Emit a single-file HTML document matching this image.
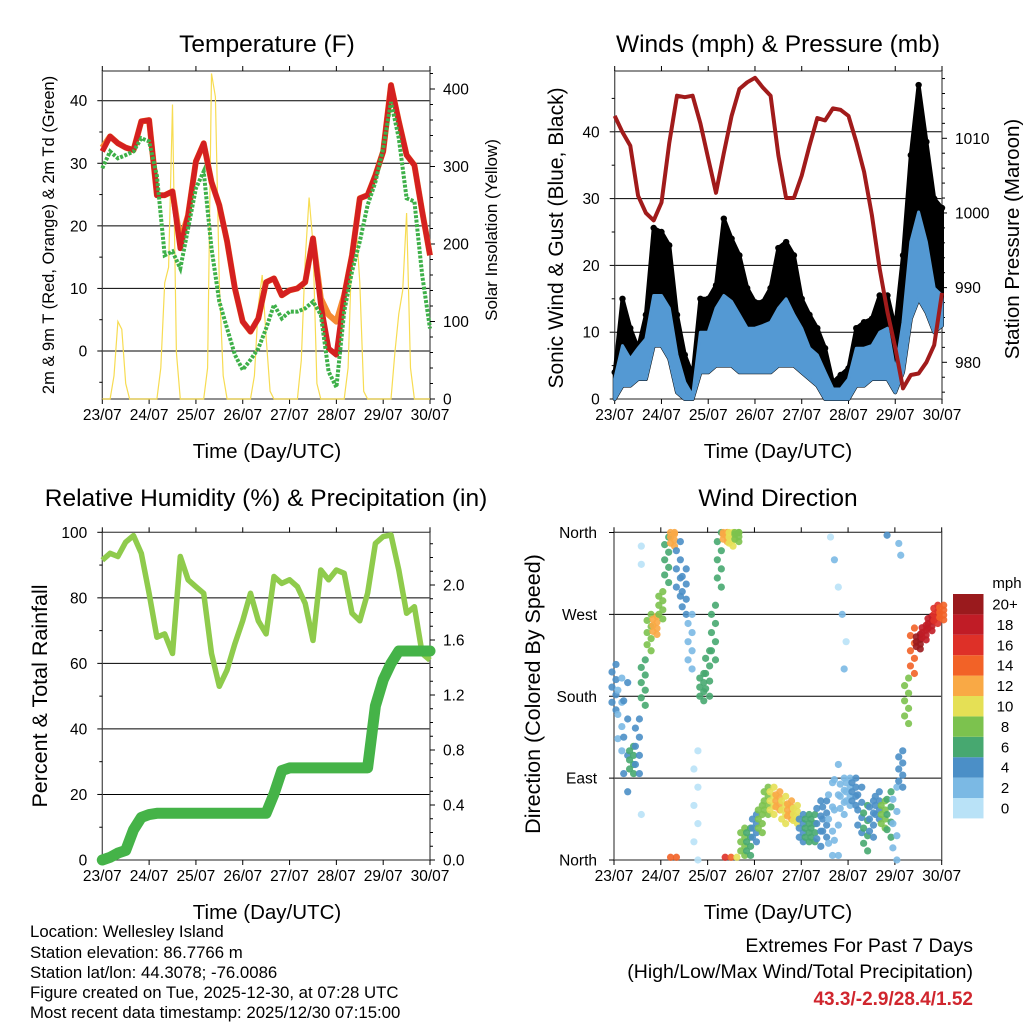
<!DOCTYPE html>
<html><head><meta charset="utf-8"><style>
html,body{margin:0;padding:0;background:#fff;}
svg{display:block;font-family:"Liberation Sans",Arial,sans-serif;}
</style></head><body>
<svg id="chart" width="1024" height="1024" viewBox="0 0 1024 1024">
<rect x="0" y="0" width="1024" height="1024" fill="#fff"/>
<g font-size="24.5" text-anchor="middle" fill="#000">
<text x="267" y="52">Temperature (F)</text>
<text x="778" y="52">Winds (mph) &amp; Pressure (mb)</text>
<text x="266" y="506">Relative Humidity (%) &amp; Precipitation (in)</text>
<text x="778" y="506">Wind Direction</text>
</g>
<g font-size="20.5" text-anchor="middle">
<text x="267" y="458">Time (Day/UTC)</text>
<text x="778" y="458">Time (Day/UTC)</text>
<text x="267" y="919">Time (Day/UTC)</text>
<text x="778" y="919">Time (Day/UTC)</text>
</g>
<g text-anchor="middle">
<text font-size="16.5" transform="translate(54,235) rotate(-90)">2m &amp; 9m T (Red, Orange) &amp; 2m Td (Green)</text>
<text font-size="17" transform="translate(497,230) rotate(-90)">Solar Insolation (Yellow)</text>
<text font-size="21" transform="translate(563,238) rotate(-90)">Sonic Wind &amp; Gust (Blue, Black)</text>
<text font-size="20.5" transform="translate(1019,239) rotate(-90)">Station Pressure (Maroon)</text>
<text font-size="21.5" transform="translate(47,696) rotate(-90)">Percent &amp; Total Rainfall</text>
<text font-size="21.5" transform="translate(540,694) rotate(-90)">Direction (Colored By Speed)</text>
</g>
<g font-size="16.8" fill="#000">
<text x="30" y="937">Location: Wellesley Island</text>
<text x="30" y="958">Station elevation: 86.7766 m</text>
<text x="30" y="978">Station lat/lon: 44.3078; -76.0086</text>
<text x="30" y="998">Figure created on Tue, 2025-12-30, at 07:28 UTC</text>
<text x="30" y="1018">Most recent data timestamp: 2025/12/30 07:15:00</text>
</g>
<g text-anchor="end">
<text x="973" y="952" font-size="19.5">Extremes For Past 7 Days</text>
<text x="973" y="978" font-size="19.5">(High/Low/Max Wind/Total Precipitation)</text>
<text x="973" y="1005" font-size="19" font-weight="bold" fill="#d0262e">43.3/-2.9/28.4/1.52</text>
</g>
<g id="plots"></g>
</svg>
<script>
const days = ['23/07','24/07','25/07','26/07','27/07','28/07','29/07','30/07'];
const tempRed = [31.9,34.3,33.2,32.5,32.1,36.7,36.9,24.9,24.9,25.5,16.4,21.7,30.3,33.2,27,23.3,17.5,10,4.7,3.1,5.2,11,11.6,8.9,9.7,10,11,18,7.4,0.4,-0.6,8.9,15.3,24.4,24.9,28.1,31.9,42.5,36.7,31.3,29.7,22.3,15.3];
const tempOrange = [32.5,34.3,33.2,32.5,32.1,36.7,36.9,24.9,24.9,25.5,17.5,21.7,30.3,33.2,27,23.3,17.5,10,4.7,3.1,5.2,11,11.6,8.9,9.7,10,11,18,8.4,5.8,4.7,8.9,15.3,24.4,24.9,28.1,31.9,42.5,36.7,31.3,29.7,22.3,15.3];
const dewGreen = [29.2,31.9,30.8,31.3,31.9,34,33.5,28,15.3,15.9,13.2,19.6,26,28.7,16.4,7.9,3.6,-0.6,-3,-1.4,0.4,3.6,7.4,5.2,6.3,6.3,6.8,7.9,5.8,-3.3,-5.8,6.3,12.7,17.5,23.3,27,32.4,39.8,34,24.4,23.9,12.1,3.6];
const solar2h = [0,0,0,30,100,90,20,0,0,0,0,0,
 0,0,0,40,150,170,380,60,0,0,0,0,
 0,0,0,40,420,390,150,30,0,0,0,0,
 0,0,0,30,120,160,80,10,0,0,0,0,
 0,0,0,50,180,260,200,20,0,0,0,0,
 0,0,0,40,200,230,150,10,0,0,0,0,
 0,0,0,60,110,140,240,40,0,0,0,0,0];
const gust = [4,15,10.6,7.6,12.6,25.6,25,23,12.6,6.6,3.6,15,15,17,27,24,21.5,16.6,14.5,14.5,16.6,22.6,23.5,21.5,15,12.6,10.6,7.6,2.5,3.6,4.6,10.6,11.5,12,15.5,15.5,10.6,21.5,36.5,47,38.5,30,28.6];
const windHi = [3,8,6,7.6,9,15.5,15.5,13.6,6.6,2.5,0.5,10,10,13.6,15.5,14.6,12.6,10.6,10.6,11,11.5,13.6,15,12.6,10.6,7.6,6.6,4,1.5,1.5,3,7.6,7.6,8,10,10.6,4,11.5,23.5,28,23.5,16.6,15.5];
const windLo = [0,2,2,3,3,8,8,6,1,0,0,4,4,5,5,5,4,4,4,4,4,5,5,5,4,3,2,0,0,0,0,2,2,3,3,3,1,4,12,15,13,10,11];
const pressure = [1013,1010.8,1009,1002.3,1000,999,1001.4,1009.4,1015.7,1015.5,1015.7,1012,1007.3,1002.7,1008,1013,1016.6,1017.5,1018.1,1016.8,1015.7,1007.7,1002,1002,1005,1009,1012.7,1012.4,1014,1013.8,1013,1009.5,1005.5,999.7,992.5,986.7,982,976.5,978.3,978.5,980,982.3,989.3];
const rh = [91.5,93.6,92.6,97,99,93.6,81.4,68,69,63,92.6,85.5,83.4,81.4,63,53,58,66,73,81.4,73,69,86.5,84.4,85.5,83.4,78.3,67,88.5,85.5,88.5,87.5,75.3,73,81.4,96.6,98.7,99.2,88.5,75.3,77.3,63,61];
const precip = [0,0.02,0.05,0.07,0.22,0.31,0.33,0.34,0.34,0.34,0.34,0.34,0.34,0.34,0.34,0.34,0.34,0.34,0.34,0.34,0.34,0.34,0.48,0.65,0.67,0.67,0.67,0.67,0.67,0.67,0.67,0.67,0.67,0.67,0.67,1.12,1.31,1.43,1.52,1.52,1.52,1.52,1.52];
const dirHours = [0,3,6,9,12,15,18,21,24,27,30,33,36,39,42,45,48,51,54,57,60,63,66,69,72,75,78,81,84,87,90,93,96,99,102,105,108,111,114,117,120,123,126,129,132,135,138,141,144,147,150,153,156,159,162,165,168];
const dirDeg = [190,160,135,110,125,195,250,258,280,330,355,320,295,240,60,190,205,250,330,358,355,358,20,20,35,45,65,65,65,55,55,50,35,35,35,40,45,45,55,70,75,75,55,35,45,60,50,50,40,100,175,230,240,250,260,270,272];
const dirSpeed = [4,3,4,6,4,6,8,12,9,6,12,5,4,2,1,7,7,6,6,12,11,8,8,6,5,8,8,10,12,11,13,11,5,6,6,4,4,2,2,2,3,4,4,6,5,4,9,6,3,5,8,15,20,19,18,17,14];
const dirSpread = [25,40,60,15,30,25,20,10,15,25,10,30,25,30,60,15,25,30,30,8,10,8,15,15,15,15,15,15,10,15,10,10,15,15,15,25,20,40,50,20,15,15,25,25,20,15,15,25,40,20,25,25,8,8,8,10,8];
const extraHours = [14,14,14,29,32,57,60,63,111,113,115,117,119,118,140,146,147];
const extraDeg = [345,325,50,3,3,3,3,3,355,330,300,270,240,210,357,348,335];
const extraSpeed = [1,1,1,15,14,16,14,11,1,2,1,2,1,2,4,2,2];
const speedLabels = ['0','2','4','6','8','10','12','14','16','18','20+'];
const speedColors = ['#b9e2f7','#7bb9e4','#4b8fc7','#47a870','#7cc24e','#e5e055','#f9a945','#f26227','#de3028','#c01c26','#9a1a1d'];

const NS='http://www.w3.org/2000/svg';
const root=document.getElementById('plots');
function mk(tag,attrs,parent){const e=document.createElementNS(NS,tag);for(const k in attrs)e.setAttribute(k,attrs[k]);(parent||root).appendChild(e);return e;}

const P1={x0:102.3,x1:430,y0:71,y1:399};
const P2={x0:614.7,x1:942,y0:71,y1:399};
const P3={x0:102.3,x1:430,y0:532.3,y1:860};
const P4={x0:614,x1:941.7,y0:532.3,y1:860};
function xH(p,h){return p.x0+h*(p.x1-p.x0)/168;}
const yT=v=>351-v*6.2575, yS=w=>399-w*0.775;
const yW=v=>399-v*6.68, yP=p=>362.3-(p-980)*7.467;
const yR=v=>860-v*3.277, yPr=v=>860-v*137.5;
const yD=d=>860-Math.max(0,Math.min(360,d))*0.9097;

function axes(p,name,left,right,grid){
  const g=mk('g',{});
  
  
  grid.vals.forEach(v=>{const y=grid.f(v);
    const l=mk('line',{x1:p.x0,x2:p.x1,y1:y,y2:y,stroke:'#000','stroke-width':1},g);
    
    });
  const fr=mk('rect',{x:p.x0,y:p.y0,width:p.x1-p.x0,height:p.y1-p.y0,fill:'none',stroke:'#555','stroke-width':1.3},g);
  
  
  days.forEach((d,i)=>{const x=xH(p,i*24);
    mk('line',{x1:x,x2:x,y1:p.y1,y2:p.y1+5,stroke:'#000'},g);
    mk('line',{x1:x,x2:x,y1:p.y0,y2:p.y0-5,stroke:'#000'},g);
    const t=mk('text',{x:x,y:p.y1+21,'font-size':15.5,'text-anchor':'middle'},g);t.textContent=d;
    
    });
  left.major.forEach((v,i)=>{const y=left.f(v);
    mk('line',{x1:p.x0-5,x2:p.x0,y1:y,y2:y,stroke:'#000'},g);
    const t=mk('text',{x:p.x0-(left.gap||15),y:y+5.5,'font-size':15.5,'text-anchor':'end'},g);t.textContent=left.labels[i];
    
    });
  (left.minor||[]).forEach(v=>{const y=left.f(v);mk('line',{x1:p.x0-3,x2:p.x0,y1:y,y2:y,stroke:'#000'},g);});
  if(right){
    right.major.forEach((v,i)=>{const y=right.f(v);
      mk('line',{x1:p.x1,x2:p.x1+5,y1:y,y2:y,stroke:'#000'},g);
      const t=mk('text',{x:p.x1+13,y:y+5.5,'font-size':15.5},g);t.textContent=right.labels[i];
      
      });
    (right.minor||[]).forEach(v=>{const y=right.f(v);mk('line',{x1:p.x1,x2:p.x1+3,y1:y,y2:y,stroke:'#000'},g);});
  }
}
function range(a,b,s,skip){const r=[];for(let v=a;v<=b+1e-9;v+=s){if(!skip||Math.abs(((v%skip)+skip)%skip)>1e-6&&Math.abs(((v%skip)+skip)%skip-skip)>1e-6)r.push(+v.toFixed(3));}return r;}
function pts(p,arr,f,step){return arr.map((v,i)=>xH(p,i*step).toFixed(1)+','+f(v).toFixed(1)).join(' ');}

// Panel 1: temperature
axes(P1,'temp',{f:yT,major:[0,10,20,30,40],labels:['0','10','20','30','40'],minor:[-5,5,15,25,35]},
 {f:yS,major:[0,100,200,300,400],labels:['0','100','200','300','400'],minor:range(20,420,20,100)},{f:yT,vals:[0,10,20,30,40]});
const solarLine=mk('polyline',{points:pts(P1,solar2h,yS,2),fill:'none',stroke:'#f7dc52','stroke-width':1.2});


const orangeLine=mk('polyline',{points:pts(P1,tempOrange,yT,4),fill:'none',stroke:'#f58a32','stroke-width':6,'stroke-linejoin':'round'});


const redLine=mk('polyline',{points:pts(P1,tempRed,yT,4),fill:'none',stroke:'#d42020','stroke-width':5.5,'stroke-linejoin':'round'});


const dewLine=mk('polyline',{points:pts(P1,dewGreen,yT,4),fill:'none',stroke:'#3eb049','stroke-width':4,'stroke-dasharray':'3 1.5'});



// Panel 2: winds & pressure
axes(P2,'wind',{f:yW,major:[0,10,20,30,40],labels:['0','10','20','30','40'],minor:[5,15,25,35,45]},
 {f:yP,major:[980,990,1000,1010],labels:['980','990','1000','1010'],minor:range(976,1018,2,10)},{f:yW,vals:[10,20,30,40]});
const gustPoly=gust.map((v,i)=>xH(P2,i*4).toFixed(1)+','+yW(v).toFixed(1)).concat(windLo.map((v,i)=>i).reverse().map(i=>xH(P2,i*4).toFixed(1)+','+yW(windLo[i]).toFixed(1))).join(' ');
const gustArea=mk('polygon',{points:gustPoly,fill:'#000',stroke:'#000','stroke-width':4,'stroke-linejoin':'round'});


gust.forEach((v,i)=>{const c=mk('circle',{cx:xH(P2,i*4),cy:yW(v),r:3.2,fill:'#000'});
  
  });
const windPoly=windHi.map((v,i)=>xH(P2,i*4).toFixed(1)+','+yW(v).toFixed(1)).concat(windLo.map((v,i)=>i).reverse().map(i=>xH(P2,i*4).toFixed(1)+','+yW(windLo[i]).toFixed(1))).join(' ');
const windArea=mk('polygon',{points:windPoly,fill:'#5499d3',stroke:'#5499d3','stroke-width':3,'stroke-linejoin':'round'});


const presLine=mk('polyline',{points:pts(P2,pressure,yP,4),fill:'none',stroke:'#a11b1b','stroke-width':4,'stroke-linejoin':'round'});



// Panel 3: RH & precip
axes(P3,'rh',{f:yR,major:[0,20,40,60,80,100],labels:['0','20','40','60','80','100'],minor:[10,30,50,70,90]},
 {f:yPr,major:[0,0.4,0.8,1.2,1.6,2.0],labels:['0.0','0.4','0.8','1.2','1.6','2.0'],minor:[0.1,0.2,0.3,0.5,0.6,0.7,0.9,1.0,1.1,1.3,1.4,1.5,1.7,1.8,1.9,2.1,2.2,2.3]},{f:yR,vals:[20,40,60,80]});
const rhLine=mk('polyline',{points:pts(P3,rh,yR,4),fill:'none',stroke:'#8fcb4c','stroke-width':5.5,'stroke-linejoin':'round'});


const prLine=mk('polyline',{points:pts(P3,precip,yPr,4),fill:'none',stroke:'#45b348','stroke-width':11,'stroke-linejoin':'round','stroke-linecap':'round'});



// Panel 4: wind direction
axes(P4,'dir',{f:yD,major:[0,90,180,270,360],labels:['North','East','South','West','North'],gap:17},null,{f:yD,vals:[90,180,270,360]});
function spdColor(s){return speedColors[Math.min(10,Math.floor(s/2))];}
dirHours.forEach((h,i)=>{
  for(let k=-3;k<=3;k++){
    const d=dirDeg[i]+k*dirSpread[i]/3;
    const c=mk('circle',{cx:xH(P4,h)+(k%2?2:-2),cy:yD(d),r:3.6,fill:spdColor(dirSpeed[i]),'fill-opacity':0.9});
    
    
  }
});
extraHours.forEach((h,i)=>{
  const c=mk('circle',{cx:xH(P4,h),cy:yD(extraDeg[i]),r:3.6,fill:spdColor(extraSpeed[i]),'fill-opacity':0.9});
  
  
});
// colorbar
const cb=mk('g',{});


const mph=mk('text',{x:1007,y:588,'font-size':15,'text-anchor':'middle'},cb);mph.textContent='mph';


speedLabels.forEach((lab,i)=>{
  const j=10-i;const y=594+j*20.4;
  const r=mk('rect',{x:953,y:y,width:30.5,height:20.4,fill:speedColors[i]},cb);
  
  
  const t=mk('text',{x:1005,y:y+15.5,'font-size':15,'text-anchor':'middle'},cb);t.textContent=lab;
  
  
});
</script>
</body></html>
